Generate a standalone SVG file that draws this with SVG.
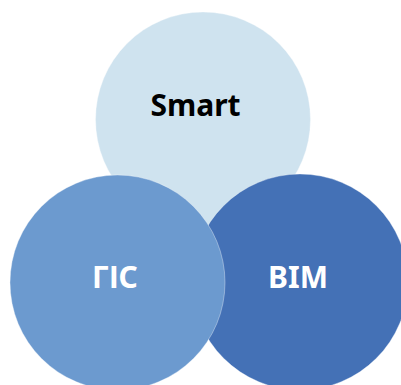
<svg xmlns="http://www.w3.org/2000/svg" width="401" height="385" viewBox="0 0 401 385">
<style>
.c{stroke:#ffffff;stroke-opacity:0.35;stroke-width:1}
.t{font-family:"Noto Sans","Open Sans","Liberation Sans",sans-serif;font-weight:bold;font-size:30px;text-anchor:middle}
</style>
<rect width="401" height="385" fill="#ffffff"/>
<g id="smart">
<circle class="c" cx="203" cy="119.5" r="107.5" fill="#cfe3ef"/>
<text class="t" x="195.5" y="115.7" fill="#000000">Smart</text>
</g>
<g id="bim">
<circle class="c" cx="300" cy="282" r="108" fill="#4471b6"/>
<text class="t" x="298" y="288.3" fill="#ffffff">BIM</text>
</g>
<g id="gis">
<circle class="c" cx="117.5" cy="282.5" r="107.5" fill="#6c9acf"/>
<text class="t" x="115" y="288.3" fill="#ffffff">ГІС</text>
</g>
<g id="connectors"/>
</svg>
